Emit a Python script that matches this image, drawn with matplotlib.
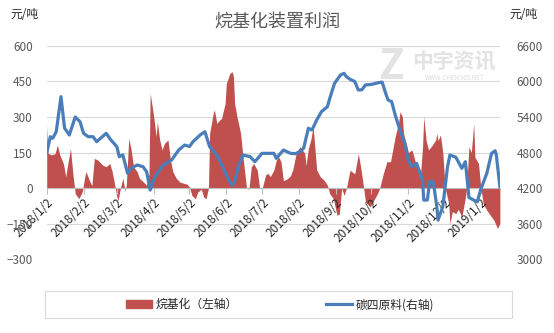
import numpy as np
import pandas as pd
import matplotlib
matplotlib.use("Agg")
import matplotlib.pyplot as plt
import matplotlib.dates as mdates
from matplotlib.patches import Rectangle
from matplotlib.lines import Line2D

plt.rcParams['font.family'] = ['Noto Sans CJK SC', 'DejaVu Sans']

start = pd.Timestamp('2018-01-02')

# 烷基化利润 (左轴), days counted from 2018-01-02
profit_days = [0, 1, 4, 7, 9, 11, 14, 16, 18, 20, 22, 24, 27, 30, 32, 33, 36, 38, 40, 43,
               47, 50, 53, 55, 57, 59, 60, 62, 64, 66, 67, 69, 71, 73, 76, 78, 81, 84, 86, 87,
               90, 92, 93, 95, 97, 99, 102, 104, 106, 109, 112, 118, 120, 122, 125, 127, 130, 132, 134, 136,
               137, 140, 141, 143, 145, 147, 150, 151, 154, 156, 157, 158, 160, 163, 165, 168, 170, 172, 174, 177,
               179, 181, 184, 186, 188, 191, 193, 195, 197, 199, 202, 205, 207, 210, 213, 215, 217, 218, 220, 222,
               224, 227, 230, 233, 236, 238, 241, 244, 246, 248, 250, 252, 255, 259, 262, 264, 266, 268, 272, 275,
               278, 280, 283, 286, 289, 293, 296, 297, 299, 300, 303, 304, 307, 308, 311, 314, 316, 317, 319, 321,
               324, 327, 328, 329, 331, 333, 335, 338, 339, 341, 344, 346, 349, 352, 353, 355, 357, 359, 360, 363,
               365, 367, 370, 373, 376, 379, 381]
profit = [266, 147, 140, 145, 182, 140, 104, 48, 110, 167, 60, -24, -45, -15, 48, 69, 31, 10, 125, 118,
          97, 90, 104, 70, 19, -38, -52, 0, 41, -15, 19, 210, 161, 90, 69, 41, 27, 12, 60, 400,
          301, 217, 280, 203, 161, 189, 203, 118, 69, 41, 25, 16, 5, -31, -45, -17, -5, -38, -45, 0,
          231, 315, 330, 273, 285, 294, 357, 441, 484, 491, 470, 357, 301, 231, 132, 0, -5, 89, 104, 76,
          0, -5, 55, 62, 48, 76, 118, 132, 110, 31, 38, 52, 80, 153, 174, 160, 146, 95, 167, 203,
          259, 76, 48, 34, 12, -24, -45, -115, -110, 0, -31, 0, 75, 60, 145, 87, 18, -59, -80, -52,
          -24, 0, 61, 111, 111, 217, 280, 322, 301, 230, 174, 150, 161, 146, 89, 40, 174, 301, 200, 161,
          180, 203, 231, 200, 224, 150, 0, -66, -151, -100, -108, -90, -122, -40, 0, 174, 150, 273, 130, 104,
          0, -66, -94, -115, -136, -171, -150]

# 碳四原料价格 (右轴)
c4_days = [0, 3, 5, 8, 12, 15, 19, 24, 28, 31, 35, 39, 42, 50, 54, 59, 61, 64, 68, 71,
           76, 81, 84, 87, 91, 98, 105, 111, 116, 120, 123, 129, 133, 137, 143, 148, 153, 156, 158, 161,
           165, 171, 175, 181, 186, 191, 193, 199, 205, 209, 213, 216, 220, 223, 227, 231, 236, 238, 242, 247,
           250, 252, 255, 259, 262, 265, 268, 273, 279, 282, 285, 287, 290, 293, 297, 301, 304, 307, 311, 314,
           316, 317, 320, 322, 325, 328, 329, 332, 333, 337, 339, 344, 349, 352, 355, 359, 362, 365, 370, 374,
           377, 378, 381]
c4 = [4790, 5067, 5040, 5150, 5743, 5214, 5096, 5400, 5320, 5124, 5067, 5067, 4983, 5124, 5011, 4898, 4729, 4760, 4448, 4533,
      4589, 4560, 4476, 4166, 4391, 4589, 4673, 4842, 4927, 4900, 4983, 5096, 5152, 4898, 4758, 4560, 4335, 4251, 4300, 4560,
      4758, 4730, 4645, 4786, 4786, 4786, 4701, 4842, 4786, 4780, 4814, 4871, 5209, 5180, 5349, 5490, 5574, 5716, 5969, 6110,
      6138, 6080, 6037, 6000, 5856, 5860, 5941, 5950, 5980, 5990, 5800, 5687, 5660, 5434, 5180, 4955, 4673, 4560, 4617, 4448,
      4335, 3997, 3997, 4307, 4307, 3884, 3659, 3828, 3884, 4560, 4758, 4720, 4533, 4645, 4040, 3997, 3968, 4180, 4448, 4786,
      4830, 4760, 4222]

left_ticks = [-300, -150, 0, 150, 300, 450, 600]
right_ticks = [3000, 3600, 4200, 4800, 5400, 6000, 6600]

profit_dates = start + pd.to_timedelta(profit_days, unit='D')
c4_dates = start + pd.to_timedelta(c4_days, unit='D')

red = '#C0504D'
blue = '#4A7EBB'
grey_text = '#595959'

fig = plt.figure(figsize=(5.54, 3.33), dpi=100)
ax = fig.add_axes([0.0843, 0.222, 0.818, 0.640])
ax2 = ax.twinx()

ax.fill_between(profit_dates, profit, 0, color=red, lw=0)
ax2.plot(c4_dates, c4, color=blue, lw=2.3, solid_joinstyle='round')

ax.set_ylim(-300, 600)
ax2.set_ylim(3000, 6600)
ax.set_yticks(left_ticks)
ax2.set_yticks(right_ticks)
ax.set_xlim(start, start + pd.Timedelta(days=381))

for y in left_ticks:
    ax.axhline(y, color='#D9D9D9', lw=0.8, zorder=0)

for a in (ax, ax2):
    for s in a.spines.values():
        s.set_visible(False)
ax.spines['bottom'].set_visible(True)
ax.spines['bottom'].set_position(('data', 0))
ax.spines['bottom'].set_color('#BFBFBF')

months = pd.date_range('2018-01-02', '2019-01-02', freq=pd.DateOffset(months=1))
ax.set_xticks(months)
ax.set_xticklabels([f"{d.year}/{d.month}/{d.day}" for d in months],
                   rotation=45, ha='right', va='top', rotation_mode='anchor')
ax.tick_params(axis='x', length=4, color='#BFBFBF', labelsize=8.5, labelcolor='#262626', pad=2)
ax.tick_params(axis='y', length=0, labelsize=8.5, labelcolor=grey_text, pad=10)
ax2.tick_params(axis='y', length=0, labelsize=8.5, labelcolor=grey_text, pad=12)

fig.text(0.5, 0.935, '烷基化装置利润', ha='center', va='center', fontsize=13, color=grey_text)
fig.text(0.018, 0.955, '元/吨', ha='left', va='center', fontsize=8.5, color='#262626')
fig.text(0.92, 0.955, '元/吨', ha='left', va='center', fontsize=8.5, color='#262626')

# watermark
fig.text(0.705, 0.80, 'Z', ha='center', va='center', fontsize=30, fontweight='bold',
         style='italic', color='#E3E3E3', zorder=0)
fig.text(0.82, 0.815, '中宇资讯', ha='center', va='center', fontsize=15, fontweight='bold',
         color='#E3E3E3', zorder=0)
fig.text(0.82, 0.765, 'WWW.CHEM365.NET', ha='center', va='center', fontsize=4.5,
         color='#DDDDDD', zorder=0)

# legend
fig.patches.append(Rectangle((0.081, 0.045), 0.843, 0.080, transform=fig.transFigure,
                             fill=False, edgecolor='#D9D9D9', lw=0.8))
handles = [Rectangle((0, 0), 1, 1, color=red),
           Line2D([0], [0], color=blue, lw=2.3)]
fig.legend(handles, ['烷基化（左轴）', '碳四原料(右轴)'], loc='center',
           bbox_to_anchor=(0.505, 0.085), ncol=2, frameon=False, fontsize=8.5,
           handlelength=2.2, handleheight=0.6, columnspacing=7.5, handletextpad=0.3,
           labelcolor='#262626')

fig.savefig('out.png', dpi=100)
